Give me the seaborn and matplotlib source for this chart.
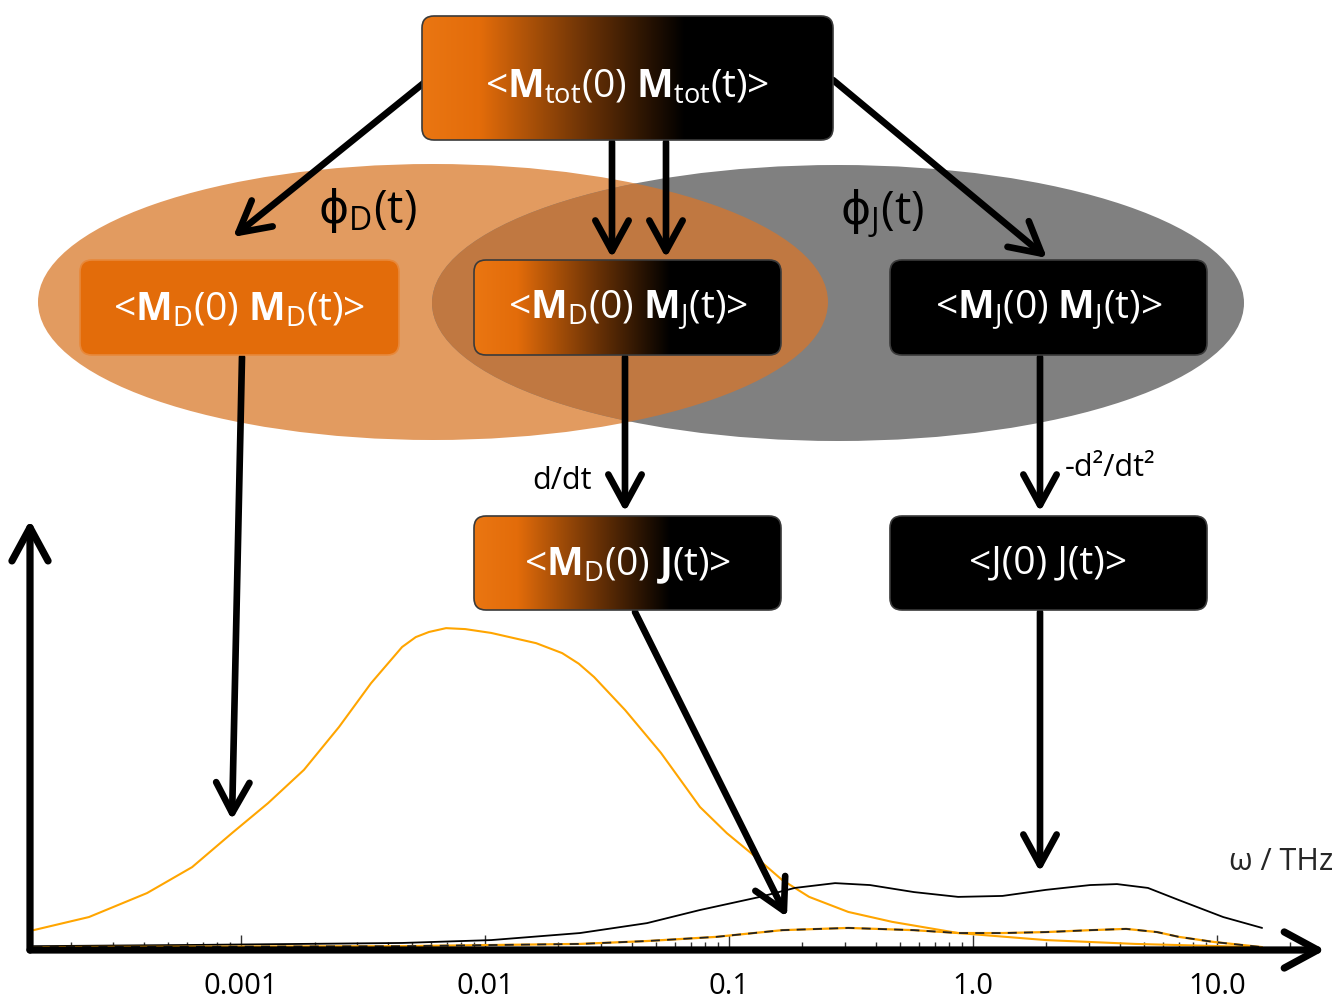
import numpy as np
import matplotlib
matplotlib.use("Agg")
import matplotlib.pyplot as plt
import seaborn as sns
from matplotlib.patches import Ellipse, FancyBboxPatch, FancyArrowPatch, ArrowStyle
from matplotlib.colors import LinearSegmentedColormap
from matplotlib.ticker import FixedLocator, FixedFormatter, LogLocator, NullFormatter

# ---------------- data ----------------
omega_D = [1.41e-4, 2.38e-4, 4.12e-4, 6.3e-4, 9.2e-4, 1.29e-3, 1.81e-3, 2.52e-3, 3.41e-3,
           4.57e-3, 5.2e-3, 5.89e-3, 6.92e-3, 8.3e-3, 1.06e-2, 1.62e-2, 2.07e-2, 2.42e-2,
           2.80e-2, 3.75e-2, 5.26e-2, 7.60e-2, 0.098, 0.123, 0.165, 0.213, 0.308, 0.466,
           0.869, 1.99, 4.61, 14.7]
spec_D = [0.062, 0.103, 0.178, 0.259, 0.366, 0.459, 0.563, 0.697, 0.834,
          0.947, 0.978, 0.994, 1.006, 1.003, 0.991, 0.959, 0.928, 0.895,
          0.853, 0.750, 0.616, 0.447, 0.365, 0.303, 0.219, 0.166, 0.119, 0.088,
          0.053, 0.031, 0.019, 0.009]

omega_J = [1.41e-4, 6.8e-4, 4.57e-3, 1.06e-2, 2.45e-2, 4.61e-2, 7.60e-2, 0.134, 0.186, 0.272,
           0.378, 0.573, 0.869, 1.32, 1.99, 3.02, 3.89, 5.21, 6.98, 10.6, 15.3]
spec_J = [0.012, 0.016, 0.022, 0.031, 0.053, 0.084, 0.125, 0.166, 0.194, 0.209,
          0.203, 0.181, 0.166, 0.169, 0.188, 0.203, 0.206, 0.194, 0.156, 0.103, 0.069]

omega_X = [1.41e-4, 4.57e-3, 2.45e-2, 4.6e-2, 8.85e-2, 0.165, 0.308, 0.573, 0.869, 1.32,
           1.99, 3.02, 4.24, 5.68, 6.98, 9.73, 15.3]
spec_X = [0.009, 0.012, 0.019, 0.028, 0.041, 0.062, 0.069, 0.062, 0.053, 0.053,
          0.056, 0.062, 0.066, 0.056, 0.041, 0.025, 0.009]

tick_values = [0.001, 0.01, 0.1, 1.0, 10.0]
tick_labels = ["0.001", "0.01", "0.1", "1.0", "10.0"]
x_label = "ω / THz"

box_texts = {
    "tot": r"<$\mathbf{M}_{\mathrm{tot}}$(0) $\mathbf{M}_{\mathrm{tot}}$(t)>",
    "DD": r"<$\mathbf{M}_{\mathrm{D}}$(0) $\mathbf{M}_{\mathrm{D}}$(t)>",
    "DJ": r"<$\mathbf{M}_{\mathrm{D}}$(0) $\mathbf{M}_{\mathrm{J}}$(t)>",
    "JJm": r"<$\mathbf{M}_{\mathrm{J}}$(0) $\mathbf{M}_{\mathrm{J}}$(t)>",
    "DJc": r"<$\mathbf{M}_{\mathrm{D}}$(0) $\mathbf{J}$(t)>",
    "JJ": r"<J(0) J(t)>",
}
phi_D_label = r"$\mathsf{\phi}_{\mathrm{D}}$(t)"
phi_J_label = r"$\mathsf{\phi}_{\mathrm{J}}$(t)"

# ---------------- style ----------------
sns.set_theme(style="white")
plt.rcParams["font.family"] = ["Open Sans", "DejaVu Sans"]
plt.rcParams["mathtext.fontset"] = "custom"
plt.rcParams["mathtext.rm"] = "Open Sans"
plt.rcParams["mathtext.bf"] = "Open Sans:bold"
plt.rcParams["mathtext.it"] = "Open Sans:italic"
plt.rcParams["mathtext.sf"] = "DejaVu Sans"

W, H = 1337, 1005
fig = plt.figure(figsize=(W / 100, H / 100), dpi=100)
fig.patch.set_facecolor("white")

# ---------------- spectrum axes ----------------
sax = fig.add_axes([30 / W, (H - 950) / H, 1290 / W, 430 / H], zorder=1)
sax.patch.set_alpha(0)
sns.lineplot(x=omega_D, y=spec_D, ax=sax, color="#FFA500", lw=1.5)
sns.lineplot(x=omega_J, y=spec_J, ax=sax, color="black", lw=1.3)
sns.lineplot(x=omega_X, y=spec_X, ax=sax, color="#FFA500", lw=1.6)
sns.lineplot(x=omega_X, y=spec_X, ax=sax, color="#222222", lw=1.3, linestyle=(0, (5, 4)))
sax.set_xscale("log")
sax.set_xlim(10 ** -3.865, 10 ** 1.422)
sax.set_ylim(0, 1.344)
sax.xaxis.set_major_locator(FixedLocator(tick_values))
sax.xaxis.set_major_formatter(FixedFormatter(tick_labels))
sax.xaxis.set_minor_locator(LogLocator(base=10, subs=np.arange(2, 10), numticks=30))
sax.xaxis.set_minor_formatter(NullFormatter())
sax.tick_params(axis="x", which="both", direction="in", bottom=True, color="#333333", width=1)
sax.tick_params(axis="x", which="major", length=11, pad=16, labelsize=21, labelcolor="black")
sax.tick_params(axis="x", which="minor", length=6)
sax.set_yticks([])
sax.set_xlabel("")
sax.set_ylabel("")
for s in sax.spines.values():
    s.set_visible(False)

axis_style = ArrowStyle("->", head_length=24, head_width=13)
for end in [(1.004, 0.0), (0.0, 1.0)]:
    a = FancyArrowPatch((0, 0), end, transform=sax.transAxes, arrowstyle=axis_style,
                        mutation_scale=1, lw=5.2, color="black", shrinkA=0, shrinkB=0,
                        capstyle="round", joinstyle="round", clip_on=False, zorder=5)
    sax.add_patch(a)
fig.text(1281 / W, 1 - 862 / H, x_label, fontsize=22, ha="center", va="center")

# ---------------- diagram axes (pixel coordinates) ----------------
ax = fig.add_axes([0, 0, 1, 1], zorder=2)
ax.set_xlim(0, W)
ax.set_ylim(H, 0)
ax.axis("off")

e_orange = Ellipse((433, 302), 790, 276, facecolor="#E29B60", edgecolor="none", zorder=1)
e_gray = Ellipse((838, 303), 812, 276, facecolor="#808080", edgecolor="none", zorder=1)
ax.add_patch(e_orange)
ax.add_patch(e_gray)
e_over = Ellipse((433, 302), 790, 276, facecolor="#C07841", edgecolor="none", zorder=2)
ax.add_patch(e_over)
e_over.set_clip_path(e_gray)

grad = LinearSegmentedColormap.from_list(
    "ob", [(0.0, "#EA7612"), (0.14, "#E36C0A"), (0.40, "#6A3206"), (0.64, "#000000"), (1.0, "#000000")])

boxes = {
    "tot": (422, 16, 833, 140, "grad"),
    "DD": (80, 260, 399, 355, "#E36C0A"),
    "DJ": (474, 260, 781, 355, "grad"),
    "JJm": (890, 260, 1207, 355, "#000000"),
    "DJc": (474, 516, 781, 610, "grad"),
    "JJ": (890, 516, 1207, 610, "#000000"),
}
text_dy = {"tot": 10, "DD": 3, "DJ": 3, "JJm": 3, "DJc": 3, "JJ": 0}
for key, (x0, y0, x1, y1, col) in boxes.items():
    edge = "#E8883A" if col == "#E36C0A" else "#3A3A3A"
    p = FancyBboxPatch((x0, y0), x1 - x0, y1 - y0, boxstyle="round,pad=0,rounding_size=12",
                       facecolor=(col if col != "grad" else "none"), edgecolor=edge, lw=1.2, zorder=6)
    ax.add_patch(p)
    if col == "grad":
        g = np.linspace(0, 1, 256)[None, :]
        im = ax.imshow(g, cmap=grad, extent=[x0, x1, y1, y0], aspect="auto", zorder=5.5,
                       interpolation="bilinear")
        im.set_clip_path(p)
    ax.text((x0 + x1) / 2, (y0 + y1) / 2 + text_dy[key], box_texts[key], color="white",
            fontsize=28, ha="center", va="center", zorder=7)
ax.set_xlim(0, W)
ax.set_ylim(H, 0)

arrow_style = ArrowStyle("->", head_length=22, head_width=12)
arrows = [((425, 82), (233, 237)), ((612, 142), (612, 258)), ((666, 142), (666, 258)),
          ((833, 80), (1047, 258)), ((242, 357), (232, 820)), ((625, 357), (625, 512)),
          ((1040, 357), (1040, 512)), ((635, 612), (787, 917)), ((1040, 612), (1040, 872))]
for a0, a1 in arrows:
    ax.add_patch(FancyArrowPatch(a0, a1, arrowstyle=arrow_style, mutation_scale=1, lw=4.8,
                                 color="black", shrinkA=0, shrinkB=0, capstyle="round",
                                 joinstyle="round", zorder=5))

ax.text(367, 210, phi_D_label, fontsize=33, ha="center", va="center", color="black", zorder=8)
ax.text(882, 214, phi_J_label, fontsize=33, ha="center", va="center", color="black", zorder=8)
ax.text(562, 481, "d/dt", fontsize=22, ha="center", va="center", color="black", zorder=8)
ax.text(1065, 468, "-d²/dt²", fontsize=22, ha="left", va="center", color="black", zorder=8)

fig.savefig("out.png", dpi=100, facecolor="white")
